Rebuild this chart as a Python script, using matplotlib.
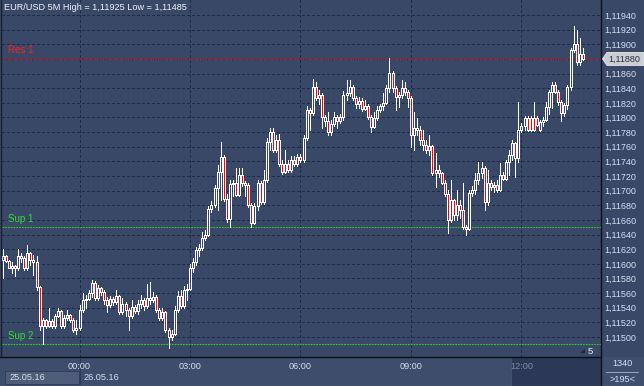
import matplotlib
matplotlib.use("Agg")
import matplotlib.pyplot as plt
from matplotlib.patches import Rectangle, Polygon
from matplotlib.lines import Line2D
from matplotlib.ticker import FixedLocator, FuncFormatter
import numpy as np

# ---------------- data (EUR/USD 5M, prices as points above 1.11000) -------------
first_time = "25.05.16 21:55"          # first visible candle
bar_minutes = 5
open_pts = [605,611,604,594,597,594,611,608,594,615,605,603,568,515,523,515,522,515,529,535,
            515,526,530,523,510,512,537,551,552,560,574,553,567,562,551,544,552,548,556,534,
            545,537,529,541,535,545,551,542,553,551,555,537,526,534,510,500,504,537,556,542,
            564,566,594,603,619,622,635,639,675,680,704,726,746,689,661,709,710,694,721,710,
            708,680,656,679,710,685,715,767,780,756,769,736,726,736,728,742,736,746,742,772,
            810,806,842,827,831,801,795,780,791,801,795,801,831,833,842,827,818,822,812,816,
            801,787,799,810,816,820,840,861,840,828,831,840,835,827,776,786,783,769,762,756,
            761,724,728,724,710,695,660,687,667,680,674,650,648,697,701,715,724,731,685,710,
            705,708,701,721,716,739,749,765,745,783,788,799,799,799,799,783,794,797,814,835,
            844,835,821,806,817,842,892,900,876,887]
high_pts = [620,612,605,603,598,620,615,611,626,616,612,611,570,526,525,540,525,531,540,537,
            530,537,531,526,523,544,560,557,564,578,576,571,568,564,555,556,555,564,557,553,
            548,540,551,544,551,557,553,572,575,562,557,540,540,536,512,510,542,563,564,570,
            572,600,608,623,627,644,646,679,686,708,735,766,749,695,715,715,731,731,731,713,
            710,683,683,715,713,728,772,786,786,776,777,742,756,742,747,747,750,750,776,816,
            813,853,849,838,833,803,808,797,808,803,805,836,851,851,845,829,828,827,824,818,
            803,808,816,818,833,844,881,863,843,835,851,849,837,829,808,799,788,783,769,776,
            763,752,735,726,715,701,715,689,701,687,710,653,701,706,724,739,739,734,728,715,
            712,715,738,726,742,755,769,767,821,793,802,802,802,821,802,797,801,821,838,849,
            849,838,824,820,844,895,925,919,909,895]
low_pts = [581,603,594,588,583,592,603,592,592,598,585,564,510,490,512,514,512,513,527,512,
           513,523,520,507,504,510,534,540,551,555,551,551,557,545,534,541,544,545,531,531,
           529,510,526,533,531,540,537,540,545,548,534,523,523,507,485,496,503,534,540,540,
           551,564,589,598,611,619,633,638,671,678,674,687,686,657,650,693,693,693,706,693,
           678,650,654,674,682,682,712,756,753,753,734,723,724,726,726,734,734,739,739,769,
           783,804,824,818,786,788,776,776,788,786,793,797,824,829,824,813,813,809,810,798,
           780,785,797,807,810,818,835,835,810,814,827,831,814,759,756,776,762,756,751,749,
           721,705,719,709,693,642,657,660,660,662,648,639,646,693,695,709,717,674,680,701,
           698,698,699,714,714,721,742,718,739,780,783,782,782,782,788,782,788,795,805,813,
           833,817,795,802,812,838,889,872,872,878]
close_pts = [611,604,594,597,594,611,608,594,615,605,603,568,515,523,515,522,515,529,535,515,
             526,530,523,510,512,537,551,552,560,574,553,567,562,551,544,552,548,556,534,545,
             537,529,541,535,545,551,542,553,551,555,537,526,534,510,500,504,537,556,542,564,
             566,594,603,619,622,635,639,675,680,704,726,746,689,661,709,710,694,721,710,708,
             680,656,679,710,685,715,767,780,756,769,736,726,736,728,742,736,746,742,772,810,
             806,842,827,831,801,795,780,791,801,795,801,831,833,842,827,818,822,812,816,801,
             787,799,810,816,820,840,861,840,828,831,840,835,827,776,786,783,769,762,756,761,
             724,728,724,710,695,660,687,667,680,674,650,648,697,701,715,724,731,685,710,705,
             708,701,721,716,739,749,765,745,783,788,799,783,783,783,790,794,797,814,835,844,
             835,821,806,817,842,892,900,876,887,880]

res1_price = 1.11880
sup1_price = 1.11650
sup2_price = 1.11490
last_price = 1.11880
day_high = 1.11925
day_low = 1.11485
price_ticks = [1.11500, 1.11520, 1.11540, 1.11560, 1.11580, 1.11600, 1.11620, 1.11640,
               1.11660, 1.11680, 1.11700, 1.11720, 1.11740, 1.11760, 1.11780, 1.11800,
               1.11820, 1.11840, 1.11860, 1.11880, 1.11900, 1.11920, 1.11940]
time_tick_minutes = [0, 180, 360, 540, 720]
time_tick_labels = ["00:00", "03:00", "06:00", "09:00", "12:00"]
date_labels = ["25.05.16", "26.05.16"]
bars_total = "1340"
bars_visible = ">195<"
period_label = "5"

# ---------------- derived arrays ----------------
o = 1.11 + np.array(open_pts) / 1e5
h = 1.11 + np.array(high_pts) / 1e5
l = 1.11 + np.array(low_pts) / 1e5
c = 1.11 + np.array(close_pts) / 1e5
n = len(c)
# minutes relative to 26.05.16 00:00 (first candle 21:55 previous day)
t = -125 + bar_minutes * np.arange(n)

# ---------------- figure ----------------
W, H = 644, 386
BG = "#3a4868"
PANEL = "#3e4d6b"
GRID = "#1d2b49"
TXT = "#d4def0"

fig = plt.figure(figsize=(W / 100, H / 100), dpi=100)
fig.patch.set_facecolor(BG)

def fx(px):
    return px / W

def fy(py):
    return 1 - py / H

ax_l, ax_r, ax_t, ax_b = 2, 601, 0, 356.5
ax = fig.add_axes([fx(ax_l), fy(ax_b), fx(ax_r - ax_l), (ax_b - ax_t) / H])
ax.set_facecolor(BG)

px_per_min = 3.069 / 5.0
x0 = (ax_l - 79.5) / px_per_min
x1 = (ax_r - 79.5) / px_per_min
ax.set_xlim(x0, x1)
ytop = 1.11 + (960.5 - 1.3664 * ax_t) / 1e5
ybot = 1.11 + (960.5 - 1.3664 * ax_b) / 1e5
ax.set_ylim(ybot, ytop)

for s in ax.spines.values():
    s.set_visible(False)

# grid
for p in price_ticks:
    ax.axhline(p, color=GRID, lw=0.8, dashes=(2.5, 2.5), zorder=1, antialiased=False)
for m in time_tick_minutes:
    ax.axvline(m, color=GRID, lw=0.8, dashes=(2.5, 2.5), zorder=1, antialiased=False)

# support / resistance
ax.axhline(res1_price, color="#e81010", lw=0.8, dashes=(1.5, 1.0), zorder=2)
ax.axhline(sup1_price, color="#2ad02a", lw=0.8, dashes=(1.5, 1.0), zorder=2)
ax.axhline(sup2_price, color="#2ad02a", lw=0.8, dashes=(1.5, 1.0), zorder=2)

# candles
LW = 0.72
ax.vlines(t, l, h, color="white", lw=LW, zorder=3, antialiased=False)
body_w = 2.0 / px_per_min
bear = c < o
colors = np.where(bear, "#ff0000", BG)
bottoms = np.minimum(o, c)
heights = np.abs(c - o)
ax.bar(t, heights, bottom=bottoms, width=body_w, color=colors,
       edgecolor="white", linewidth=LW, zorder=4, antialiased=False)

# axis ticks
ax.yaxis.tick_right()
ax.yaxis.set_major_locator(FixedLocator(price_ticks))
ax.yaxis.set_major_formatter(FuncFormatter(
    lambda v, pos: "" if abs(v - last_price) < 1e-7 else f"{v:.5f}".replace(".", ",")))
ax.tick_params(axis="y", length=0, pad=2.6, labelsize=6.5, labelcolor=TXT)
for lab in ax.get_yticklabels():
    lab.set_family("Liberation Sans")

ax.set_xticks(time_tick_minutes)
ax.set_xticklabels(time_tick_labels, family="Liberation Sans")
ax.tick_params(axis="x", length=0, pad=4.0, labelsize=6.6, labelcolor=TXT)
ax.get_xticklabels()[-1].set_color("#7d8ba6")

# level labels
ax.text(0.010, res1_price + 0.00005, "Res 1", transform=ax.get_yaxis_transform(),
        color="#ff2020", fontsize=7, family="Liberation Sans", va="bottom", ha="left", zorder=5)
ax.text(0.010, sup1_price + 0.00005, "Sup 1", transform=ax.get_yaxis_transform(),
        color="#30e030", fontsize=7, family="Liberation Sans", va="bottom", ha="left", zorder=5)
ax.text(0.010, sup2_price + 0.00005, "Sup 2", transform=ax.get_yaxis_transform(),
        color="#30e030", fontsize=7, family="Liberation Sans", va="bottom", ha="left", zorder=5)

# title
title = (f"EUR/USD 5M High = {day_high:.5f} Low = {day_low:.5f}").replace(".", ",")
fig.text(fx(4), fy(8), title, color="#eef2fa", fontsize=6.6, family="Liberation Sans",
         va="center", ha="left")

# ---------------- panels (decoration) ----------------
fig.patches.append(Rectangle((0, 0), 1, fy(ax_b), transform=fig.transFigure,
                             facecolor=PANEL, edgecolor="none", zorder=-2))
fig.patches.append(Rectangle((fx(512), 0), fx(601 - 512), fy(357), transform=fig.transFigure,
                             facecolor="#2b3957", edgecolor="none", zorder=-1))
fig.lines.append(Line2D([fx(512), fx(512)], [0, fy(357)], transform=fig.transFigure,
                        color="#8a94a8", lw=0.8, zorder=-1))
fig.patches.append(Rectangle((fx(5), fy(384)), fx(74), 13 / H, transform=fig.transFigure,
                             facecolor="#4f5d78", edgecolor="#2e3a55", lw=0.6, zorder=-1))
fig.lines.append(Line2D([fx(79.5), fx(79.5)], [fy(384), fy(357)], transform=fig.transFigure,
                        color="#2e3a55", lw=0.8, zorder=-1))
fig.text(fx(9), fy(377.5), date_labels[0], color=TXT, fontsize=6.6,
         family="Liberation Sans", va="center", ha="left")
fig.text(fx(83), fy(377.5), date_labels[1], color=TXT, fontsize=6.6,
         family="Liberation Sans", va="center", ha="left")
fig.patches.append(Rectangle((fx(601), 0), fx(43), fy(357), transform=fig.transFigure,
                             facecolor="#3f4e6d", edgecolor="none", zorder=-1))
fig.lines.append(Line2D([fx(606), fx(638)], [fy(371.5), fy(371.5)], transform=fig.transFigure,
                        color="#a8b4c8", lw=0.6))
fig.text(fx(622), fy(364), bars_total, color=TXT, fontsize=6.6, family="Liberation Sans",
         va="center", ha="center")
fig.text(fx(622), fy(379), bars_visible, color=TXT, fontsize=6.6, family="Liberation Sans",
         va="center", ha="center")
fig.lines.append(Line2D([fx(601), fx(601)], [0, 1], transform=fig.transFigure,
                        color="#0c0f18", lw=1.0))
fig.lines.append(Line2D([0, fx(601)], [fy(356.8), fy(356.8)], transform=fig.transFigure,
                        color="#0c0f18", lw=1.0))
fig.lines.append(Line2D([fx(1), fx(1)], [fy(356), 1], transform=fig.transFigure,
                        color="#1a2233", lw=1.0))
fig.lines.append(Line2D([0, 1], [fy(385.5), fy(385.5)], transform=fig.transFigure,
                        color="#9aa3b4", lw=0.8))

fig.patches.append(Polygon([[fx(580), fy(353)], [fx(585), fy(349)], [fx(585), fy(353)]],
                           closed=True, transform=fig.transFigure,
                           facecolor="#1f2a40", edgecolor="none", zorder=3))
fig.text(fx(590.5), fy(352), period_label, color="#f0f0f0", fontsize=6.8,
         family="Liberation Sans", va="center", ha="center")

# last price tag
ypx_last = (960.5 - (last_price - 1.11) * 1e5) / 1.3664
tag = Polygon([[fx(602.5), fy(ypx_last)], [fx(607), fy(ypx_last - 6.5)], [fx(644), fy(ypx_last - 6.5)],
               [fx(644), fy(ypx_last + 6.5)], [fx(607), fy(ypx_last + 6.5)]],
              closed=True, transform=fig.transFigure, facecolor="#c9cdd4",
              edgecolor="#e6e8ec", lw=0.6, zorder=3)
fig.patches.append(tag)
fig.text(fx(624), fy(ypx_last), f"{last_price:.5f}".replace(".", ","), color="#2a2f3a",
         fontsize=6.5, family="Liberation Sans", va="center", ha="center", zorder=4)

fig.savefig("out.png", dpi=100, facecolor=fig.get_facecolor())
